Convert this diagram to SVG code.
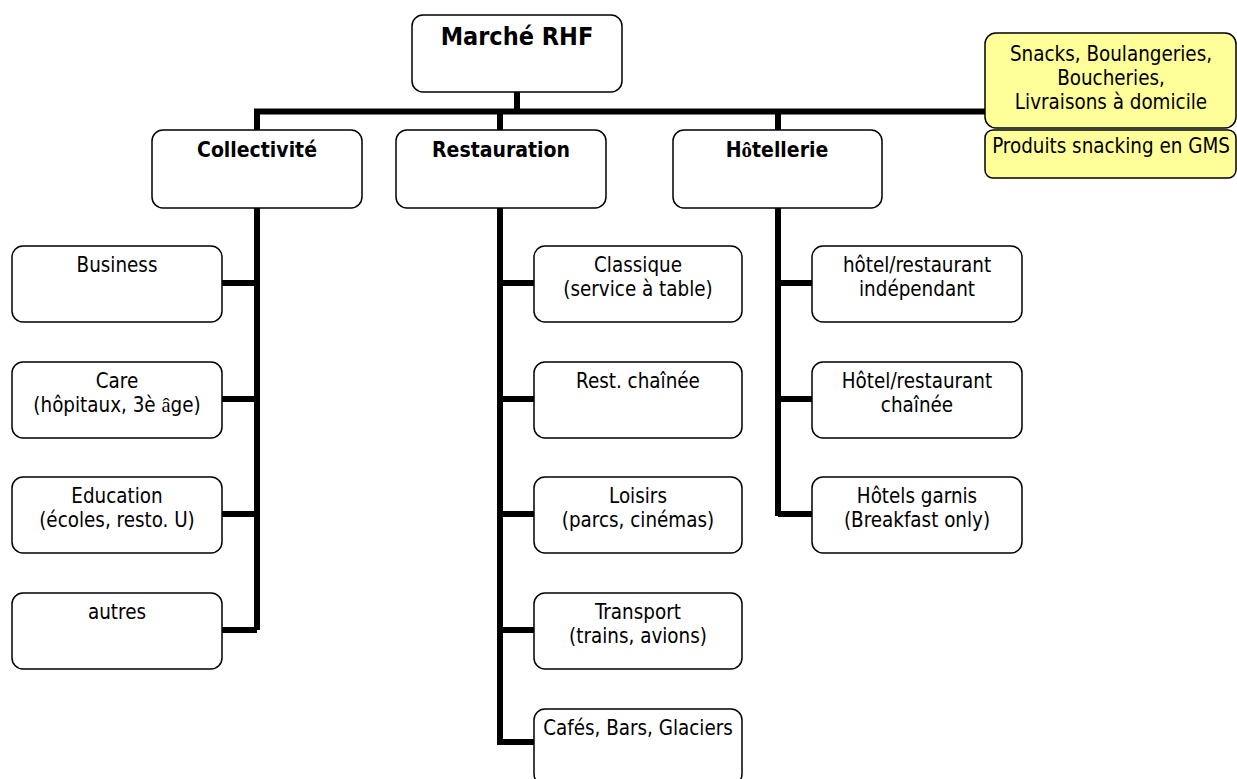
<svg xmlns="http://www.w3.org/2000/svg" width="1237" height="779" viewBox="0 0 1237 779">
<style>
.box{fill:#fff;stroke:#000;stroke-width:1.5}
.yel{fill:#ffff99;stroke:#000;stroke-width:1.5}
.t{font-family:"DejaVu Sans Condensed","DejaVu Sans","Liberation Sans",sans-serif;font-stretch:condensed;font-size:20.4px;fill:#000;text-anchor:middle}
.b{font-weight:bold;font-size:21px}
.title{font-size:25px}
.ser{font-family:"Liberation Serif","DejaVu Serif",serif;font-stretch:normal}
.c{fill:none;stroke:#000;stroke-width:6;stroke-linejoin:miter}
</style>
<rect width="1237" height="779" fill="#fff"/>
<g id="connectors">
<path class="c" d="M517,92V111.5M254,111.5H985M257,111.5V130M500,111.5V130M778,111.5V130"/>
<path class="c" d="M257,208V630M222,283H257M222,399H257M222,514H257M222,630H257"/>
<path class="c" d="M500,208V745M500,283H534M500,399H534M500,514H534M500,630H534M500,742H534"/>
<path class="c" d="M778,208V516M778,283H812M778,399H812M778,514H812"/>
</g>
<g id="marche"><rect class="box" x="412" y="15" width="210" height="77" rx="11"/><text class="t b title" x="517" y="45">Marché RHF</text></g>
<g id="snacks"><rect class="yel" x="985" y="33" width="251" height="95" rx="11"/><text class="t" x="1111" y="61">Snacks, Boulangeries,</text><text class="t" x="1111" y="85">Boucheries,</text><text class="t" x="1111" y="109">Livraisons à domicile</text></g>
<g id="gms"><rect class="yel" x="985" y="130" width="251" height="48" rx="8"/><text class="t" x="1111" y="153">Produits snacking en GMS</text></g>
<g id="collectivite"><rect class="box" x="152" y="130" width="210" height="78" rx="11"/><text class="t b" x="257" y="157">Collectivité</text></g>
<g id="restauration"><rect class="box" x="396" y="130" width="210" height="78" rx="11"/><text class="t b" x="501" y="157">Restauration</text></g>
<g id="hotellerie"><rect class="box" x="673" y="130" width="209" height="78" rx="11"/><text class="t b" x="777" y="157">H<tspan class="ser">ô</tspan>tellerie</text></g>
<g id="business"><rect class="box" x="12" y="246" width="210" height="76" rx="11"/><text class="t" x="117" y="272">Business</text></g>
<g id="care"><rect class="box" x="12" y="362" width="210" height="76" rx="11"/><text class="t" x="117" y="388">Care</text><text class="t" x="117" y="412">(hôpitaux, 3è <tspan class="ser">â</tspan>ge)</text></g>
<g id="education"><rect class="box" x="12" y="477" width="210" height="76" rx="11"/><text class="t" x="117" y="503">Education</text><text class="t" x="117" y="527">(écoles, resto. U)</text></g>
<g id="autres"><rect class="box" x="12" y="593" width="210" height="76" rx="11"/><text class="t" x="117" y="619">autres</text></g>
<g id="classique"><rect class="box" x="534" y="246" width="208" height="76" rx="11"/><text class="t" x="638" y="272">Classique</text><text class="t" x="638" y="296">(service à table)</text></g>
<g id="chainee"><rect class="box" x="534" y="362" width="208" height="76" rx="11"/><text class="t" x="638" y="388">Rest. chaînée</text></g>
<g id="loisirs"><rect class="box" x="534" y="477" width="208" height="76" rx="11"/><text class="t" x="638" y="503">Loisirs</text><text class="t" x="638" y="527">(parcs, cinémas)</text></g>
<g id="transport"><rect class="box" x="534" y="593" width="208" height="76" rx="11"/><text class="t" x="638" y="619">Transport</text><text class="t" x="638" y="643">(trains, avions)</text></g>
<g id="cafes"><rect class="box" x="534" y="709" width="208" height="76" rx="11"/><text class="t" x="638" y="735">Cafés, Bars, Glaciers</text></g>
<g id="hotel-indep"><rect class="box" x="812" y="246" width="210" height="76" rx="11"/><text class="t" x="917" y="272">hôtel/restaurant</text><text class="t" x="917" y="296">indépendant</text></g>
<g id="hotel-chaine"><rect class="box" x="812" y="362" width="210" height="76" rx="11"/><text class="t" x="917" y="388">Hôtel/restaurant</text><text class="t" x="917" y="412">chaînée</text></g>
<g id="hotels-garnis"><rect class="box" x="812" y="477" width="210" height="76" rx="11"/><text class="t" x="917" y="503">Hôtels garnis</text><text class="t" x="917" y="527">(Breakfast only)</text></g>
</svg>
